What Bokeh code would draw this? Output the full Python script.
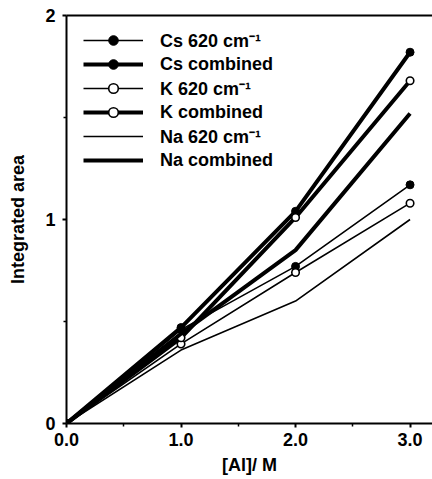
from bokeh.plotting import figure
from bokeh.models import Range1d, FixedTicker, LinearAxis, Legend, LegendItem
from bokeh.embed import file_html
from bokeh.resources import INLINE

# Aluminium concentration (M)
al_conc = [0.0, 1.0, 2.0, 3.0]

# Integrated band areas
cs_620 = [0.0, 0.46, 0.77, 1.17]
cs_combined = [0.0, 0.47, 1.04, 1.82]
k_620 = [0.0, 0.39, 0.74, 1.08]
k_combined = [0.0, 0.42, 1.01, 1.68]
na_620 = [0.0, 0.36, 0.60, 1.00]
na_combined = [0.0, 0.44, 0.85, 1.52]

x_ticks = [0.0, 1.0, 2.0, 3.0]
x_tick_labels = ["0.0", "1.0", "2.0", "3.0"]
x_minor = [0.5, 1.5, 2.5]
y_ticks = [0, 1, 2]
y_tick_labels = ["0", "1", "2"]
y_minor = [0.5, 1.5]

FONT = "Liberation Sans"
THIN = 1.6
THICK = 4.0

p = figure(width=432, height=479, output_backend="svg", toolbar_location=None,
           x_range=Range1d(0, 3.196), y_range=Range1d(0, 2),
           min_border_left=66, min_border_right=0, min_border_top=15,
           min_border_bottom=56)
p.outline_line_color = None
p.xgrid.visible = False
p.ygrid.visible = False
p.background_fill_color = "white"
p.border_fill_color = "white"

for ax, ticks, minor, labels in ((p.xaxis[0], x_ticks, x_minor, x_tick_labels),
                                 (p.yaxis[0], y_ticks, y_minor, y_tick_labels)):
    ax.ticker = FixedTicker(ticks=ticks, minor_ticks=minor)
    ax.major_label_overrides = {t: l for t, l in zip(ticks, labels)}
    ax.axis_line_width = 2
    ax.axis_line_color = "black"
    ax.major_tick_line_width = 2
    ax.minor_tick_line_width = 1.5
    ax.major_tick_out = 4
    ax.major_tick_in = 0
    ax.minor_tick_out = 3
    ax.minor_tick_in = 0
    ax.major_label_text_font = FONT
    ax.major_label_text_font_style = "bold"
    ax.major_label_text_font_size = "18px"
    ax.major_label_text_color = "black"
    ax.axis_label_text_font = FONT
    ax.axis_label_text_font_style = "bold"
    ax.axis_label_text_font_size = "18px"
    ax.axis_label_text_color = "black"

p.xaxis.axis_label = "[Al]/ M"
p.yaxis.axis_label = "Integrated area"
p.xaxis.major_label_standoff = 5
p.xaxis.axis_label_standoff = 6
p.yaxis.major_label_standoff = 7
p.yaxis.axis_label_standoff = 14

# top frame line
top = LinearAxis(ticker=FixedTicker(ticks=[]), major_label_text_font_size="0px",
                 axis_line_width=2, major_tick_out=0, minor_tick_out=0)
p.add_layout(top, "above")

items = []

def series(label, ys, width, marker):
    rends = [p.line(al_conc, ys, line_color="black", line_width=width)]
    if marker == "filled":
        rends.append(p.scatter(al_conc, ys, size=8, fill_color="black",
                               line_color="black", line_width=1))
    elif marker == "open":
        rends.append(p.scatter(al_conc, ys, size=7.5, fill_color="white",
                               line_color="black", line_width=1.6))
    items.append(LegendItem(label=label, renderers=rends))

series("Cs 620 cm\u207b\u00b9", cs_620, THIN, "filled")
series("Cs combined", cs_combined, THICK, "filled")
series("K 620 cm\u207b\u00b9", k_620, THIN, "open")
series("K combined", k_combined, THICK, "open")
series("Na 620 cm\u207b\u00b9", na_620, THIN, None)
series("Na combined", na_combined, THICK, None)

legend = Legend(items=items, location=(17, 251), padding=0, margin=0,
                glyph_width=60, glyph_height=24, label_height=24, spacing=0,
                label_standoff=17, label_text_font=FONT,
                label_text_font_style="bold", label_text_font_size="18px",
                label_text_color="black", border_line_color=None,
                background_fill_alpha=0)
p.add_layout(legend, "center")

open("out.html", "w").write(file_html(p, INLINE))
